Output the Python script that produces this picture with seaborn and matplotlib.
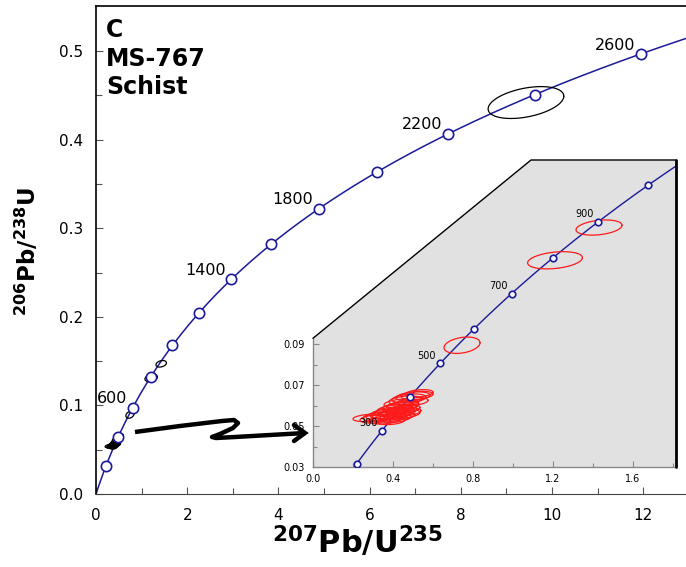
import numpy as np
import pandas as pd
import seaborn as sns
import matplotlib.pyplot as plt
from matplotlib.patches import Polygon
from matplotlib.lines import Line2D

# decay constants (1/yr)
l238 = 1.55125e-10
l235 = 9.8485e-10

# age markers on concordia (Ma)
ages_main = [200, 400, 600, 800, 1000, 1200, 1400, 1600, 1800, 2000, 2200, 2400, 2600]
labels_main = [600, 1400, 1800, 2200, 2600]
ages_inset = [200, 300, 400, 500, 600, 700, 800, 900, 1000]
labels_inset = [300, 500, 700, 900]

# analyses: 207Pb/235U, 206Pb/238U, 2s half-widths, error correlation
ell_x = [0.28, 0.31, 0.33, 0.35, 0.36, 0.37, 0.38, 0.39, 0.40, 0.41, 0.41, 0.42, 0.43, 0.43,
         0.44, 0.45, 0.45, 0.46, 0.47, 0.44, 0.46, 0.48, 0.50, 0.52, 0.53, 0.50, 0.39,
         0.745, 1.21, 1.43, 9.43]
ell_y = [0.0540, 0.0535, 0.0545, 0.0550, 0.0530, 0.0560, 0.0545, 0.0570, 0.0555, 0.0540, 0.0580,
         0.0565, 0.0550, 0.0590, 0.0575, 0.0560, 0.0600, 0.0585, 0.0570, 0.0610, 0.0625, 0.0635,
         0.0645, 0.0650, 0.0660, 0.0620, 0.0525,
         0.0895, 0.131, 0.147, 0.442]
ell_sx = [0.080, 0.075, 0.080, 0.085, 0.080, 0.085, 0.090, 0.080, 0.085, 0.080, 0.090, 0.085,
          0.080, 0.085, 0.080, 0.085, 0.080, 0.075, 0.070, 0.085, 0.080, 0.085, 0.085, 0.080,
          0.070, 0.075, 0.070,
          0.090, 0.137, 0.115, 0.83]
ell_sy = [0.0018, 0.0020, 0.0022, 0.0022, 0.0020, 0.0024, 0.0025, 0.0022, 0.0024, 0.0022, 0.0024,
          0.0022, 0.0020, 0.0024, 0.0022, 0.0022, 0.0022, 0.0020, 0.0020, 0.0022, 0.0022, 0.0022,
          0.0022, 0.0020, 0.0018, 0.0020, 0.0018,
          0.0040, 0.0042, 0.0037, 0.018]
ell_rho = [0.3] * 27 + [0.3, 0.3, 0.3, 0.4]


def concordia(t_ma):
    t = np.asarray(t_ma, dtype=float) * 1e6
    return np.exp(l235 * t) - 1, np.exp(l238 * t) - 1


def ellipse(cx, cy, sx, sy, rho, n=80):
    th = np.linspace(0, 2 * np.pi, n)
    return cx + sx * np.cos(th), cy + sy * (rho * np.cos(th) + np.sqrt(1 - rho ** 2) * np.sin(th))


sns.set_style('ticks')
plt.rcParams['font.family'] = ['DejaVu Sans']
plt.rcParams['mathtext.fontset'] = 'dejavusans'
for k in ['text.color', 'axes.labelcolor', 'xtick.labelcolor', 'ytick.labelcolor']:
    plt.rcParams[k] = 'black'

navy = '#1a1a9a'
W, H = 686, 567
fig = plt.figure(figsize=(W / 100, H / 100), dpi=100)

# ---------------- main concordia ----------------
ax = fig.add_axes([96 / W, 73 / H, (W - 96) / W, 488 / H])
tc = np.linspace(0, 2750, 400)
cx, cy = concordia(tc)
sns.lineplot(x=cx, y=cy, sort=False, color=navy, linewidth=1.1, ax=ax)
mx, my = concordia(ages_main)
sns.scatterplot(x=mx, y=my, ax=ax, s=55, color='white', edgecolor=navy, linewidth=1.2, zorder=5)
for a in labels_main:
    px, py = concordia([a])
    ax.annotate(str(a), (px[0], py[0]), xytext=(-4, 1), textcoords='offset points',
                ha='right', va='bottom', fontsize=11.5)
for x, y, sx, sy, r in zip(ell_x, ell_y, ell_sx, ell_sy, ell_rho):
    ex, ey = ellipse(x, y, sx, sy, r)
    ax.plot(ex, ey, color='black', linewidth=0.9, zorder=3)

ax.set_xlim(0, 12.94)
ax.set_ylim(0, 0.551)
ax.set_xticks(np.arange(0, 13, 2))
ax.set_xticks(np.arange(1, 13, 2), minor=True)
ax.set_yticks(np.arange(0, 0.51, 0.1))
ax.set_yticks(np.arange(0.05, 0.55, 0.1), minor=True)
ax.set_yticklabels([f'{v:.1f}' for v in np.arange(0, 0.51, 0.1)])
ax.tick_params(which='both', direction='in', labelsize=11, color='#555555', width=0.8)
ax.tick_params(which='major', length=5)
ax.tick_params(which='minor', length=4)
ax.tick_params(axis='y', pad=9)
ax.tick_params(axis='x', pad=10)
ax.spines['right'].set_visible(False)
for s in ['left', 'top']:
    ax.spines[s].set_linewidth(1.2)
    ax.spines[s].set_color('black')
ax.spines['bottom'].set_color('#444444')
ax.set_xlabel('')
ax.set_ylabel('')

fig.text(106 / W, 1 - 18 / H, 'C\nMS-767\nSchist', fontsize=17, fontweight='bold',
         va='top', ha='left', linespacing=1.25)
fig.text(358 / W, 1 - 553 / H, r'$\mathbf{^{207}Pb/U^{235}}$', fontsize=22,
         ha='center', va='baseline')
fig.text(27 / W, 1 - 252 / H, r'$\mathbf{^{206}Pb/^{238}U}$', fontsize=16.5,
         ha='center', va='center', rotation=90)

# ---------------- inset ----------------
ins = fig.add_axes([313 / W, 100 / H, 363 / W, 307 / H])
ins.set_xlim(0, 1.815)
ins.set_ylim(0.03, 0.18)
ins.patch.set_visible(False)
poly = Polygon([(0, 0.03), (1.815, 0.03), (1.815, 0.18), (1.09, 0.18), (0, 0.0929)],
               closed=True, facecolor='#e1e1e1', edgecolor='none', zorder=0)
ins.add_patch(poly)
ins.plot([0, 1.09, 1.815], [0.0929, 0.18, 0.18], color='black', linewidth=1.0, zorder=6, clip_on=False)
ins.plot([1.815, 1.815], [0.18, 0.03], color='black', linewidth=2.0, zorder=6, clip_on=False)

ti = np.linspace(100, 1150, 300)
ix, iy = concordia(ti)
ln = ins.plot(ix, iy, color=navy, linewidth=1.0, zorder=2)[0]
ln.set_clip_path(poly)
for x, y, sx, sy, r in zip(ell_x, ell_y, ell_sx, ell_sy, ell_rho):
    ex, ey = ellipse(x, y, sx, sy, r)
    e = ins.plot(ex, ey, color='#ff1a1a', linewidth=0.9, zorder=3)[0]
    e.set_clip_path(poly)
kx, ky = concordia(ages_inset)
sns.scatterplot(x=kx, y=ky, ax=ins, s=22, color='white', edgecolor=navy, linewidth=1.2, zorder=5)
for a in labels_inset:
    px, py = concordia([a])
    ins.annotate(str(a), (px[0], py[0]), xytext=(-3, 2), textcoords='offset points',
                 ha='right', va='bottom', fontsize=7)

ins.set_xticks(np.arange(0, 1.61, 0.4))
ins.set_xticks(np.arange(0.2, 1.81, 0.4), minor=True)
ins.set_xticklabels([f'{v:.1f}' for v in np.arange(0, 1.61, 0.4)])
ins.set_yticks([0.03, 0.05, 0.07, 0.09])
ins.set_yticks([0.04, 0.06, 0.08], minor=True)
ins.set_yticklabels(['0.03', '0.05', '0.07', '0.09'])
ins.tick_params(which='both', direction='in', labelsize=7, color='#888888', width=0.8)
ins.tick_params(which='major', length=4)
ins.tick_params(which='minor', length=3)
ins.tick_params(axis='x', pad=5)
ins.tick_params(axis='y', pad=6)
ins.spines['top'].set_visible(False)
ins.spines['right'].set_visible(False)
ins.spines['left'].set_bounds(0.03, 0.0929)
for s in ['left', 'bottom']:
    ins.spines[s].set_color('#888888')
    ins.spines[s].set_linewidth(1.0)
ins.set_xlabel('')
ins.set_ylabel('')

# ---------------- zigzag arrow ----------------
ap = [(135, 432), (180, 426), (222, 421), (234, 420), (238, 423), (233, 428), (220, 434),
      (212, 437), (216, 438), (235, 437), (305, 433)]
fig.add_artist(Line2D([p[0] / W for p in ap], [1 - p[1] / H for p in ap], color='black',
                      linewidth=3.2, solid_joinstyle='round', solid_capstyle='butt'))
hp = [(294, 425), (305, 433), (294, 441)]
fig.add_artist(Line2D([p[0] / W for p in hp], [1 - p[1] / H for p in hp], color='black',
                      linewidth=3.2, solid_joinstyle='miter'))

fig.savefig('out.png', dpi=100)
